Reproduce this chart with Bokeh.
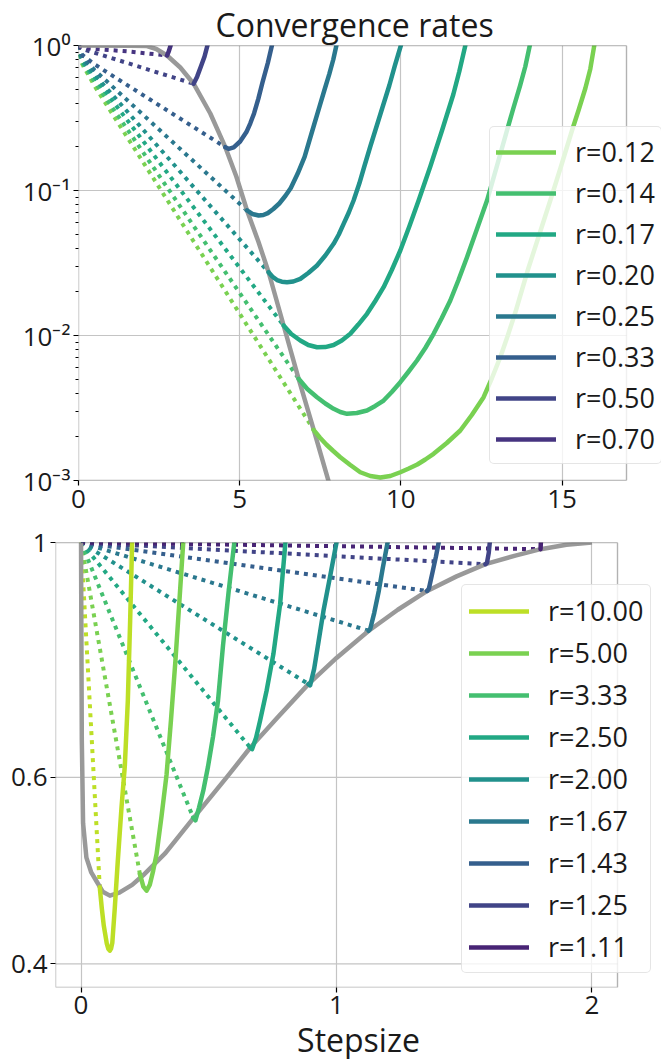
from bokeh.plotting import figure
from bokeh.models import Legend, LegendItem, FixedTicker, Range1d, BoxAnnotation
from bokeh.embed import file_html
from bokeh.resources import INLINE

FONT = "Open Sans"
GRAY = "#999999"
TXT = "#1a1a1a"
GRID = "#c4c4c4"

# ---------------- top panel data ----------------
top_title = "Convergence rates"
top_labels = ["r=0.12", "r=0.14", "r=0.17", "r=0.20", "r=0.25", "r=0.33", "r=0.50", "r=0.70"]
top_colors = ["#7ad151", "#44bf70", "#22a884", "#21918c", "#2a788e", "#355f8d", "#414487", "#463480"]
top_xlim = [0, 17]
top_ylim = [0.001, 1]
top_xticks = [0, 5, 10, 15]
top_yticks = [0.001, 0.01, 0.1, 1]
top_ytick_labels = ["10⁻³", "10⁻²", "10⁻¹", "10⁰"]

top_gray_x = [0, 1.6, 2.125, 2.414, 2.746, 3.158, 3.571, 4.089, 4.555, 4.896, 5.228, 5.579, 5.898, 6.364, 6.829, 7.295, 7.741, 7.81]
top_gray_y = [1.0, 0.997, 0.992, 0.946, 0.853, 0.705, 0.545, 0.3396, 0.199, 0.1249, 0.0728, 0.0445, 0.0273, 0.01172, 0.00503, 0.00224, 0.00102, 0.00089]

t012_dot_x = [0, 0.03, 0.12, 0.5, 7.295]
t012_dot_y = [1.0, 0.871, 0.741, 0.525, 0.00224]
t014_dot_x = [0, 0.03, 0.12, 0.5, 6.829]
t014_dot_y = [1.0, 0.881, 0.759, 0.562, 0.00503]
t017_dot_x = [0, 0.03, 0.12, 0.5, 6.364]
t017_dot_y = [1.0, 0.891, 0.776, 0.603, 0.01172]
t020_dot_x = [0, 0.03, 0.12, 0.5, 5.898]
t020_dot_y = [1.0, 0.902, 0.794, 0.631, 0.0273]
t025_dot_x = [0, 0.03, 0.12, 0.5, 5.228]
t025_dot_y = [1.0, 0.912, 0.822, 0.676, 0.0728]
t033_dot_x = [0, 0.03, 0.12, 0.5, 2.5, 4.555]
t033_dot_y = [1.0, 0.933, 0.861, 0.741, 0.387, 0.199]
t050_dot_x = [0, 0.03, 0.12, 0.5, 1.5, 2.5, 3.571]
t050_dot_y = [1.0, 0.973, 0.944, 0.891, 0.759, 0.646, 0.545]
t070_dot_x = [0, 0.03, 0.12, 0.5, 1.5, 2.746]
t070_dot_y = [1.0, 0.982, 0.964, 0.946, 0.912, 0.853]

t012_x = [7.293, 7.486, 7.687, 7.904, 8.122, 8.432, 8.742, 9.052, 9.363, 9.673, 9.983, 10.247, 10.51, 10.759,
          11.016, 11.425, 11.844, 12.201, 12.567, 12.821, 13.085, 13.318, 13.55, 13.752, 13.954, 14.295, 14.636,
          14.977, 15.309, 15.52, 15.722, 15.877, 16.0]
t012_y = [0.002237, 0.001979, 0.001771, 0.001597, 0.001447, 0.001279, 0.00114, 0.001074, 0.001049, 0.001074,
          0.00114, 0.00121, 0.001289, 0.001396, 0.001528, 0.001814, 0.002212, 0.002829, 0.003753, 0.005051,
          0.007086, 0.01, 0.0144, 0.02043, 0.02898, 0.04972, 0.0853, 0.1487, 0.2594, 0.3619, 0.5051, 0.6886, 1.0]
t014_x = [6.828, 7.098, 7.399, 7.657, 7.914, 8.122, 8.329, 8.634, 8.95, 9.207, 9.465, 9.719, 9.983, 10.231, 10.501,
          10.759, 11.016, 11.27, 11.534, 11.782, 12.052, 12.356, 12.673, 12.977, 13.293, 13.488, 13.699, 13.861, 14.0]
t014_y = [0.00503, 0.004276, 0.003753, 0.003396, 0.003123, 0.002968, 0.002884, 0.00292, 0.00304, 0.003265, 0.00356,
          0.004076, 0.004764, 0.005601, 0.006723, 0.0082, 0.01027, 0.0132, 0.01743, 0.02394, 0.03467, 0.05383,
          0.0853, 0.1464, 0.2594, 0.3677, 0.5297, 0.7166, 1.0]
t017_x = [6.363, 6.601, 6.881, 7.129, 7.399, 7.656, 7.914, 8.168, 8.432, 8.68, 8.95, 9.207, 9.465, 9.719, 9.983,
          10.262, 10.551, 10.914, 11.277, 11.627, 11.813, 12.0]
t017_y = [0.01172, 0.01024, 0.00924, 0.0086, 0.0083, 0.00832, 0.0086, 0.00924, 0.01027, 0.0119, 0.01411, 0.0173,
          0.02153, 0.02829, 0.03857, 0.05646, 0.0853, 0.1464, 0.2594, 0.4593, 0.6615, 1.0]
t020_x = [5.897, 6.012, 6.158, 6.307, 6.468, 6.664, 6.881, 7.129, 7.399, 7.657, 7.914, 8.075, 8.224, 8.385, 8.534,
          8.711, 8.866, 9.052, 9.207, 9.424, 9.642, 9.812, 10.0]
t020_y = [0.02733, 0.02552, 0.02414, 0.0235, 0.02331, 0.02357, 0.0246, 0.02698, 0.0304, 0.03562, 0.04289, 0.04972,
          0.05892, 0.07051, 0.0853, 0.1117, 0.1464, 0.2011, 0.2594, 0.3707, 0.5297, 0.7224, 1.0]
t025_x = [5.227, 5.392, 5.587, 5.733, 5.873, 6.043, 6.229, 6.415, 6.586, 6.8, 7.014, 7.237, 7.476, 7.625, 7.777,
          7.904, 8.0]
t025_y = [0.0728, 0.06886, 0.06725, 0.06776, 0.06984, 0.07454, 0.08134, 0.09164, 0.1042, 0.1308, 0.1708, 0.2512,
          0.379, 0.4893, 0.6328, 0.8006, 1.0]
t033_x = [4.554, 4.656, 4.815, 5.013, 5.209, 5.33, 5.448, 5.58, 5.705, 5.873, 6.0]
t033_y = [0.199, 0.1939, 0.1986, 0.2177, 0.2528, 0.2906, 0.3412, 0.43, 0.5538, 0.7574, 1.0]
t050_x = [3.571, 3.68, 3.8, 3.91, 4.0]
t050_y = [0.545, 0.61, 0.72, 0.84, 1.0]
t070_x = [2.746, 2.8, 2.857]
t070_y = [0.853, 0.91, 1.0]

# ---------------- bottom panel data ----------------
bot_xlabel = "Stepsize"
bot_labels = ["r=10.00", "r=5.00", "r=3.33", "r=2.50", "r=2.00", "r=1.67", "r=1.43", "r=1.25", "r=1.11"]
bot_colors = ["#bddf26", "#7ad151", "#44bf70", "#22a884", "#21918c", "#2a788e", "#355f8d", "#414487", "#482475"]
bot_xlim = [-0.1, 2.1]
bot_ylim = [0.38, 1.0]
bot_xticks = [0, 1, 2]
bot_yticks = [0.4, 0.6, 1.0]
bot_ytick_labels = ["0.4", "0.6", "1"]

bot_gray_x = [0, 0.001, 0.003, 0.008, 0.021, 0.04, 0.06, 0.085, 0.113, 0.15, 0.2, 0.243, 0.33, 0.439, 0.57, 0.662, 0.77, 0.89, 1.0, 1.125, 1.24, 1.355, 1.47, 1.583, 1.7, 1.799, 1.9, 2.0]
bot_gray_y = [1.0, 0.85, 0.65, 0.543, 0.504, 0.488, 0.479, 0.468, 0.464, 0.467, 0.475, 0.485, 0.509, 0.549, 0.600, 0.640, 0.684, 0.735, 0.778, 0.825, 0.864, 0.900, 0.929, 0.954, 0.972, 0.9856, 0.995, 1.0]

b1000_dot_x = [0, 0.0733]
b1000_dot_y = [1.0, 0.4725]
b500_dot_x = [0, 0.2302]
b500_dot_y = [1.0, 0.4864]
b333_dot_x = [0, 0.439]
b333_dot_y = [1.0, 0.55]
b250_dot_x = [0, 0.6616]
b250_dot_y = [1.0, 0.6405]
b200_dot_x = [0, 0.8902]
b200_dot_y = [1.0, 0.735]
b167_dot_x = [0, 1.1255]
b167_dot_y = [1.0, 0.8254]
b143_dot_x = [0, 1.3545]
b143_dot_y = [1.0, 0.900]
b125_dot_x = [0, 1.5831]
b125_dot_y = [1.0, 0.9539]
b111_dot_x = [0, 1.7988]
b111_dot_y = [1.0, 0.9856]

b1000_x = [0.0733, 0.081, 0.089, 0.1008, 0.1068, 0.1125, 0.1176, 0.1224, 0.1322, 0.1439, 0.1584, 0.1714, 0.1831, 0.1922, 0.2]
b1000_y = [0.4725, 0.452, 0.4347, 0.418, 0.4133, 0.4117, 0.4135, 0.4188, 0.452, 0.5006, 0.5622, 0.6154, 0.7087, 0.8435, 1.0]
b500_x = [0.2302, 0.2439, 0.2565, 0.2694, 0.2824, 0.2957, 0.3153, 0.3349, 0.3518, 0.3694, 0.3851, 0.4]
b500_y = [0.4864, 0.4732, 0.469, 0.4753, 0.4899, 0.5079, 0.5521, 0.6043, 0.6786, 0.7731, 0.8808, 1.0]
b333_x = [0.439, 0.4478, 0.4616, 0.4784, 0.4969, 0.5165, 0.5361, 0.5557, 0.5773, 0.6]
b333_y = [0.5499, 0.5466, 0.5617, 0.5828, 0.6141, 0.6554, 0.7087, 0.7991, 0.8964, 1.0]
b250_x = [0.6616, 0.6694, 0.6851, 0.7008, 0.7263, 0.7529, 0.7792, 0.8]
b250_y = [0.6405, 0.638, 0.654, 0.6786, 0.7244, 0.7844, 0.8745, 1.0]
b200_x = [0.8902, 0.8969, 0.9125, 0.9302, 0.949, 0.9753, 1.0]
b200_y = [0.735, 0.7331, 0.7597, 0.8075, 0.862, 0.93, 1.0]
b167_x = [1.1255, 1.1322, 1.1478, 1.1655, 1.1812, 1.2]
b167_y = [0.8254, 0.8291, 0.8582, 0.9, 0.9463, 1.0]
b143_x = [1.3545, 1.3616, 1.3753, 1.389, 1.4]
b143_y = [0.9, 0.9042, 0.9361, 0.9692, 1.0]
b125_x = [1.5831, 1.589, 1.596, 1.6]
b125_y = [0.9539, 0.9567, 0.9777, 1.0]
b111_x = [1.7988, 1.8]
b111_y = [0.9856, 1.0]

top_series = [
    (t012_dot_x, t012_dot_y, t012_x, t012_y),
    (t014_dot_x, t014_dot_y, t014_x, t014_y),
    (t017_dot_x, t017_dot_y, t017_x, t017_y),
    (t020_dot_x, t020_dot_y, t020_x, t020_y),
    (t025_dot_x, t025_dot_y, t025_x, t025_y),
    (t033_dot_x, t033_dot_y, t033_x, t033_y),
    (t050_dot_x, t050_dot_y, t050_x, t050_y),
    (t070_dot_x, t070_dot_y, t070_x, t070_y),
]
bot_series = [
    (b1000_dot_x, b1000_dot_y, b1000_x, b1000_y),
    (b500_dot_x, b500_dot_y, b500_x, b500_y),
    (b333_dot_x, b333_dot_y, b333_x, b333_y),
    (b250_dot_x, b250_dot_y, b250_x, b250_y),
    (b200_dot_x, b200_dot_y, b200_x, b200_y),
    (b167_dot_x, b167_dot_y, b167_x, b167_y),
    (b143_dot_x, b143_dot_y, b143_x, b143_y),
    (b125_dot_x, b125_dot_y, b125_x, b125_y),
    (b111_dot_x, b111_dot_y, b111_x, b111_y),
]

CANVAS_W = 661


def make_fig(xlim, ylim, left, top, bottom, frame_w_vis, frame_h, title=None):
    # the frame is widened to the canvas edge so the legend can overhang the axes box
    extra = CANVAS_W - left - frame_w_vis
    span = xlim[1] - xlim[0]
    xr = Range1d(xlim[0], xlim[1] + span * extra / frame_w_vis)
    kw = dict(title=title) if title else {}
    p = figure(frame_width=CANVAS_W - left, frame_height=frame_h, x_range=xr,
               y_range=Range1d(ylim[0], ylim[1]), y_axis_type="log",
               output_backend="svg", toolbar_location=None,
               min_border_left=left, min_border_right=0, min_border_top=top,
               min_border_bottom=bottom, **kw)
    p.outline_line_color = None
    p.background_fill_color = "white"
    p.border_fill_color = "white"
    return p


def style_axes(p, xlim, ylim, xticks, yticks, ylabels, yminor=None):
    p.xaxis.ticker = FixedTicker(ticks=xticks)
    p.yaxis.ticker = FixedTicker(ticks=yticks, minor_ticks=yminor or [])
    p.xgrid.ticker = FixedTicker(ticks=xticks)
    p.xgrid.grid_line_color = GRID
    p.xgrid.grid_line_width = 1.2
    p.ygrid.visible = False
    p.yaxis.major_label_overrides = {v: s for v, s in zip(yticks, ylabels)}
    p.xaxis.major_label_overrides = {v: str(v) for v in xticks}
    for ax in (p.xaxis, p.yaxis):
        ax.axis_line_color = None
        ax.major_tick_line_color = "black"
        ax.major_tick_line_width = 1.2
        ax.major_tick_out = 5
        ax.major_tick_in = 0
        ax.minor_tick_line_color = "black"
        ax.minor_tick_out = 3
        ax.minor_tick_in = 0
        ax.major_label_text_font = FONT
        ax.major_label_text_font_size = "26px"
        ax.major_label_text_color = TXT
        ax.major_label_standoff = 3
    p.xaxis.minor_tick_line_color = None
    # horizontal grid lines limited to the axes box
    n = len(yticks)
    p.segment(x0=[xlim[0]] * n, y0=yticks, x1=[xlim[1]] * n, y1=yticks,
              line_color=GRID, line_width=1.2)
    # axes box (spines)
    p.add_layout(BoxAnnotation(left=xlim[0], right=xlim[1], bottom=ylim[0], top=ylim[1],
                               fill_alpha=0, line_color="black", line_width=1.4, level="overlay"))


def draw(p, series, colors, gray_x, gray_y):
    for (dx, dy, sx, sy), c in zip(series, colors):
        p.line(dx, dy, line_color=c, line_width=4, line_dash="4 5", line_cap="butt")
    p.line(gray_x, gray_y, line_color=GRAY, line_width=4.5, line_join="round")
    rends = []
    for (dx, dy, sx, sy), c in zip(series, colors):
        rends.append(p.line(sx, sy, line_color=c, line_width=4.5, line_join="round", line_cap="round"))
    return rends


def make_legend(p, labels, rends, loc, spacing, padding):
    leg = Legend(items=[LegendItem(label=l, renderers=[r]) for l, r in zip(labels, rends)],
                 location=loc, margin=0, padding=padding, spacing=spacing,
                 glyph_width=60, glyph_height=30, label_height=30, label_standoff=19,
                 label_text_font=FONT, label_text_font_size="27px", label_text_color=TXT,
                 border_line_color="#cccccc", border_line_width=1,
                 background_fill_color="white", background_fill_alpha=0.8)
    try:
        leg.border_radius = 5
    except Exception:
        pass
    p.add_layout(leg)


# ---------------- top figure ----------------
p1 = make_fig(top_xlim, top_ylim, left=78, top=45, bottom=45, frame_w_vis=548, frame_h=435, title=top_title)
p1.title.text_font = FONT
p1.title.text_font_size = "32px"
p1.title.text_font_style = "normal"
p1.title.text_color = TXT
p1.title.align = "left"
p1.title.offset = 137
p1.title.standoff = 0
minor = [k * d for d in (0.001, 0.01, 0.1) for k in range(2, 10)]
style_axes(p1, top_xlim, top_ylim, top_xticks, top_yticks, top_ytick_labels, minor)
p1.xaxis.major_label_standoff = 4
r1 = draw(p1, top_series, top_colors, top_gray_x, top_gray_y)
make_legend(p1, top_labels, r1, (411, 16), 4, 6)

# ---------------- bottom figure ----------------
p2 = make_fig(bot_xlim, bot_ylim, left=55, top=17, bottom=40, frame_w_vis=562, frame_h=445)
style_axes(p2, bot_xlim, bot_ylim, bot_xticks, bot_yticks, bot_ytick_labels)
p2.yaxis.minor_tick_line_color = None
p2.xaxis.axis_label = bot_xlabel
p2.xaxis.axis_label_text_font = FONT
p2.xaxis.axis_label_text_font_size = "32px"
p2.xaxis.axis_label_text_font_style = "normal"
p2.xaxis.axis_label_text_color = TXT
p2.xaxis.axis_label_standoff = 1
r2 = draw(p2, bot_series, bot_colors, bot_gray_x, bot_gray_y)
make_legend(p2, bot_labels, r2, (406, 14), 5, 7)

open("out.html", "w").write(file_html([p1, p2], INLINE))
